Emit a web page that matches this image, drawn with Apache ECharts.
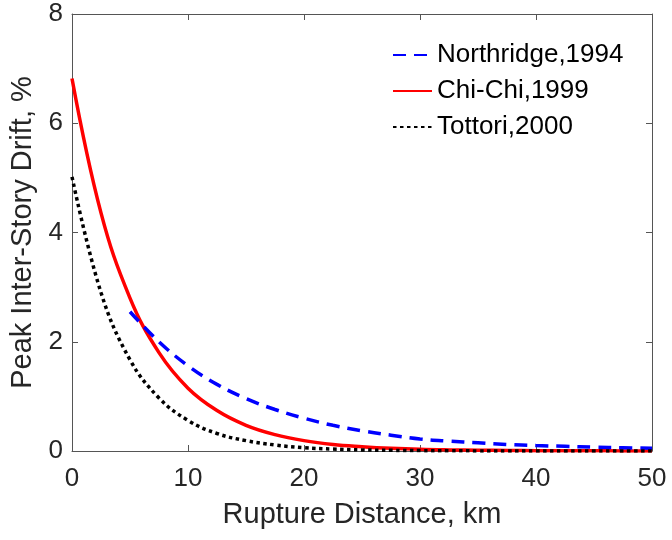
<!DOCTYPE html>
<html>
<head>
<meta charset="utf-8">
<script src="https://cdn.jsdelivr.net/npm/echarts@6/dist/echarts.min.js"></script>
<style>html,body{margin:0;padding:0;background:#fff}#c{width:672px;height:540px}</style>
</head>
<body>
<div id="c"></div>
<script>
// Data
var xTicks = [0, 10, 20, 30, 40, 50];
var yTicks = [0, 2, 4, 6, 8];

var chiChiDist  = [0, 2.5, 5, 7.5, 10, 12.5, 15, 17.5, 20, 22.5, 25, 27.5, 30, 32.5, 35, 37.5, 40, 42.5, 45, 47.5, 50];
var chiChiDrift = [6.82, 4.36, 2.80, 1.80, 1.15, 0.74, 0.47, 0.30, 0.19, 0.12, 0.08, 0.05, 0.03, 0.02, 0.015, 0.01, 0.006, 0.004, 0.003, 0.002, 0.001];

var tottoriDist  = [0, 2.5, 5, 7.5, 10, 12.5, 15, 17.5, 20, 22.5, 25, 27.5, 30, 32.5, 35, 37.5, 40, 42.5, 45, 47.5, 50];
var tottoriDrift = [5.02, 2.90, 1.67, 0.97, 0.56, 0.32, 0.19, 0.11, 0.06, 0.035, 0.02, 0.012, 0.007, 0.004, 0.002, 0.001, 0.001, 0.0005, 0.0005, 0.0002, 0.0002];

var northDist  = [5, 7.5, 10, 12.5, 15, 17.5, 20, 22.5, 25, 27.5, 30, 32.5, 35, 37.5, 40, 42.5, 45, 47.5, 50];
var northDrift = [2.55, 2.00, 1.56, 1.22, 0.96, 0.76, 0.60, 0.47, 0.37, 0.29, 0.22, 0.18, 0.15, 0.12, 0.10, 0.085, 0.07, 0.06, 0.05];

function pairs(xs, ys) { return xs.map(function (x, i) { return [x, ys[i]]; }); }

var axisColor = '#555555';
var textColor = '#262626';
var font = 'Liberation Sans, Arial, Helvetica, sans-serif';

var chart = echarts.init(document.getElementById('c'), null, {renderer: 'canvas'});
chart.setOption({
  animation: false,
  backgroundColor: '#ffffff',
  grid: {left: 72, right: 20, top: 14, bottom: 89, containLabel: false},
  legend: {
    left: 387, top: 37, orient: 'vertical',
    itemWidth: 39, itemHeight: 20, itemGap: 10,
    itemStyle: {opacity: 0},
    textStyle: {fontFamily: font, fontSize: 26, color: '#000', lineHeight: 26},
    data: ['Northridge,1994', 'Chi-Chi,1999', 'Tottori,2000']
  },
  xAxis: [{
    type: 'value', min: 0, max: 50, interval: 10,
    name: 'Rupture Distance, km', nameLocation: 'middle', nameGap: 49,
    nameTextStyle: {fontFamily: font, fontSize: 29, color: textColor},
    axisLine: {show: true, onZero: false, lineStyle: {color: axisColor, width: 1}},
    axisTick: {show: true, inside: true, length: 6, lineStyle: {color: axisColor}},
    axisLabel: {fontFamily: font, fontSize: 26, color: textColor, margin: 15},
    splitLine: {show: false}
  }, {
    type: 'value', min: 0, max: 50, interval: 10, position: 'top',
    axisLine: {show: true, onZero: false, lineStyle: {color: axisColor, width: 1}},
    axisTick: {show: true, inside: true, length: 6, lineStyle: {color: axisColor}},
    axisLabel: {show: false}, splitLine: {show: false}
  }],
  yAxis: [{
    type: 'value', min: 0, max: 8, interval: 2,
    name: 'Peak Inter-Story Drift, %', nameLocation: 'middle', nameGap: 30,
    nameTextStyle: {fontFamily: font, fontSize: 29, color: textColor},
    axisLine: {show: true, onZero: false, lineStyle: {color: axisColor, width: 1}},
    axisTick: {show: true, inside: true, length: 6, lineStyle: {color: axisColor}},
    axisLabel: {fontFamily: font, fontSize: 26, color: textColor, margin: 9},
    splitLine: {show: false}
  }, {
    type: 'value', min: 0, max: 8, interval: 2, position: 'right',
    axisLine: {show: true, onZero: false, lineStyle: {color: axisColor, width: 1}},
    axisTick: {show: true, inside: true, length: 6, lineStyle: {color: axisColor}},
    axisLabel: {show: false}, splitLine: {show: false}
  }],
  series: [{
    name: 'Northridge,1994', type: 'line', smooth: 0.4, symbol: 'none',
    xAxisIndex: 0, yAxisIndex: 0, z: 3,
    data: pairs(northDist, northDrift),
    itemStyle: {color: '#0000ff'},
    lineStyle: {color: '#0000ff', width: 3.5, type: [13, 8], cap: 'butt'}
  }, {
    name: 'Chi-Chi,1999', type: 'line', smooth: 0.4, symbol: 'none',
    xAxisIndex: 0, yAxisIndex: 0, z: 2,
    data: pairs(chiChiDist, chiChiDrift),
    itemStyle: {color: '#ff0000'},
    lineStyle: {color: '#ff0000', width: 3.5, type: 'solid'}
  }, {
    name: 'Tottori,2000', type: 'line', smooth: 0.4, symbol: 'none',
    xAxisIndex: 0, yAxisIndex: 0, z: 4,
    data: pairs(tottoriDist, tottoriDrift),
    itemStyle: {color: '#000000'},
    lineStyle: {color: '#000000', width: 3.5, type: [3.5, 3.5], cap: 'butt'}
  }]
});
</script>
</body>
</html>
